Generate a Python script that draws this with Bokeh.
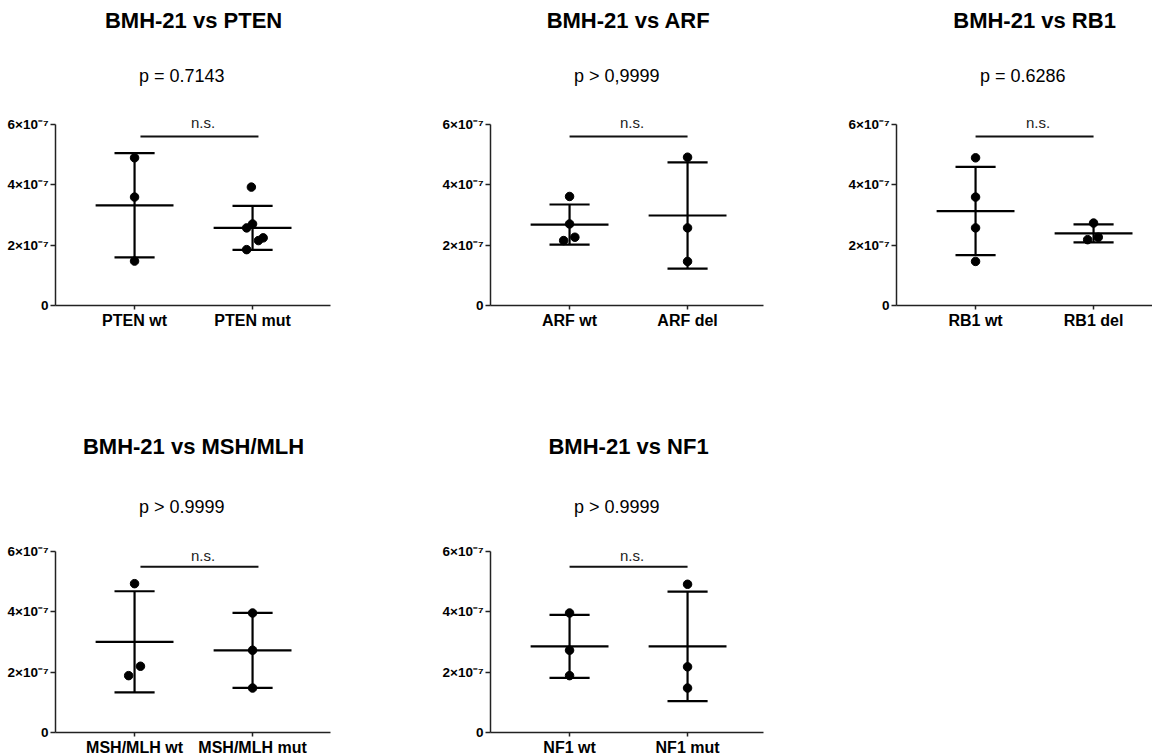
import numpy as np
from bokeh.plotting import figure
from bokeh.models import Range1d, FixedTicker
from bokeh.layouts import column, row
from bokeh.embed import file_html
from bokeh.resources import INLINE
from bokeh.core.properties import value

# ---------------- data (values in units of 1e-7) ----------------
titles = ["BMH-21 vs PTEN", "BMH-21 vs ARF", "BMH-21 vs RB1",
          "BMH-21 vs MSH/MLH", "BMH-21 vs NF1"]
p_texts = ["p = 0.7143", "p > 0,9999", "p = 0.6286", "p > 0.9999", "p > 0.9999"]
sig_texts = ["n.s.", "n.s.", "n.s.", "n.s.", "n.s."]
group_labels = [("PTEN wt", "PTEN mut"), ("ARF wt", "ARF del"), ("RB1 wt", "RB1 del"),
                ("MSH/MLH wt", "MSH/MLH mut"), ("NF1 wt", "NF1 mut")]

pten_wt = [4.89, 3.59, 1.47]
pten_mut = [3.92, 2.70, 2.57, 2.15, 2.24, 1.85]
arf_wt = [3.61, 2.70, 2.15, 2.26]
arf_del = [4.91, 2.57, 1.46]
rb1_wt = [4.89, 3.59, 2.57, 1.46]
rb1_del = [2.73, 2.18, 2.26]
msh_wt = [4.92, 2.19, 1.88]
msh_mut = [3.95, 2.72, 1.47]
nf1_wt = [3.95, 2.72, 1.88]
nf1_mut = [4.90, 2.17, 1.47]

y_tick_values = [0, 2, 4, 6]
y_tick_labels = ["0", "2×10⁻⁷", "4×10⁻⁷", "6×10⁻⁷"]

# horizontal scatter offsets of the dots (category units)
pten_wt_dx = [0, 0, 0]
pten_mut_dx = [-0.01, 0.0, -0.05, 0.05, 0.09, -0.05]
arf_wt_dx = [0, 0, -0.05, 0.045]
arf_del_dx = [0, 0, 0]
rb1_wt_dx = [0, 0, 0, 0]
rb1_del_dx = [0, -0.05, 0.04]
msh_wt_dx = [0, 0.05, -0.05]
msh_mut_dx = [0, 0, 0]
nf1_wt_dx = [0, 0, 0]
nf1_mut_dx = [0, 0, 0]

panels_data = [
    ((pten_wt, pten_wt_dx), (pten_mut, pten_mut_dx)),
    ((arf_wt, arf_wt_dx), (arf_del, arf_del_dx)),
    ((rb1_wt, rb1_wt_dx), (rb1_del, rb1_del_dx)),
    ((msh_wt, msh_wt_dx), (msh_mut, msh_mut_dx)),
    ((nf1_wt, nf1_wt_dx), (nf1_mut, nf1_mut_dx)),
]

# ---------------- layout / style ----------------
FONT = "Liberation Sans"
PX_PER_X = 118.0
X_START = 0.33

# per panel: frame width, left border, right border
frame_w = [275, 273, 264, 275, 273]
left_b = [55, 47, 47, 55, 47]
right_b = [109, 82, 0, 109, 82]
bar_shift = [0.05, 0.0, 0.0, 0.05, 0.0]

# per row: frame height, px per unit, borders, text y (data units)
row_cfg = [
    dict(fh=297, ppu=30.2, bt=8, bb=120, title_y=9.44, p_y=7.60, ns_y=6.05, bar_y=5.60),
    dict(fh=307, ppu=30.25, bt=0, bb=22, title_y=9.46, p_y=7.44, ns_y=5.86, bar_y=5.48),
]


def make_panel(i):
    rc = row_cfg[0] if i < 3 else row_cfg[1]
    fw = frame_w[i]
    p = figure(frame_width=fw, frame_height=rc["fh"],
               min_border_left=left_b[i], min_border_right=right_b[i],
               min_border_top=rc["bt"], min_border_bottom=rc["bb"],
               x_range=Range1d(X_START, X_START + fw / PX_PER_X),
               y_range=Range1d(0, rc["fh"] / rc["ppu"]),
               output_backend="svg", toolbar_location=None, tools="")
    p.outline_line_color = None
    p.xgrid.visible = False
    p.ygrid.visible = False
    p.background_fill_color = "white"
    p.border_fill_color = "white"

    # axes
    ya = p.yaxis[0]
    ya.ticker = FixedTicker(ticks=y_tick_values)
    ya.major_label_overrides = dict(zip(y_tick_values, y_tick_labels))
    ya.bounds = (0, 6)
    ya.minor_tick_line_color = None
    ya.major_tick_out = 5
    ya.major_tick_in = 0
    ya.major_label_standoff = 2
    ya.major_label_text_font = FONT
    ya.major_label_text_font_style = "bold"
    ya.major_label_text_font_size = "13.5px"
    ya.major_label_text_color = "black"
    ya.axis_line_width = 1.5
    ya.axis_line_color = "#222"
    ya.major_tick_line_width = 1.5
    ya.major_tick_line_color = "#222"

    xa = p.xaxis[0]
    xa.ticker = FixedTicker(ticks=[1, 2])
    xa.major_label_overrides = {1: group_labels[i][0], 2: group_labels[i][1]}
    xa.minor_tick_line_color = None
    xa.major_tick_out = 4
    xa.major_tick_in = 0
    xa.major_label_standoff = 2
    xa.major_label_text_font = FONT
    xa.major_label_text_font_style = "bold"
    xa.major_label_text_font_size = "16px"
    xa.major_label_text_color = "black"
    xa.axis_line_width = 1.5
    xa.axis_line_color = "#222"
    xa.major_tick_line_width = 1.5
    xa.major_tick_line_color = "#222"

    # groups: mean ± SD with dots
    for k, (vals, dx) in enumerate(panels_data[i], start=1):
        v = np.array(vals, dtype=float)
        m = v.mean()
        sd = v.std(ddof=1)
        p.segment(x0=[k - 0.33], x1=[k + 0.33], y0=[m], y1=[m],
                  line_color="black", line_width=2.2)
        p.segment(x0=[k], x1=[k], y0=[m - sd], y1=[m + sd],
                  line_color="black", line_width=2.2)
        p.segment(x0=[k - 0.17, k - 0.17], x1=[k + 0.17, k + 0.17],
                  y0=[m - sd, m + sd], y1=[m - sd, m + sd],
                  line_color="black", line_width=2.2)
        xs = [k + d for d in dx]
        p.scatter(x=xs, y=list(v), size=8.5, color="black")

    # significance bar
    b0 = 1 + bar_shift[i]
    b1 = 2 + bar_shift[i]
    p.segment(x0=[b0], x1=[b1], y0=[rc["bar_y"]], y1=[rc["bar_y"]],
              line_color="#111", line_width=2)
    p.text(x=[(b0 + b1) / 2 + 0.03], y=[rc["ns_y"]], text=[sig_texts[i]],
           text_font=value(FONT), text_font_size="15px", text_color="#222",
           text_align="center", text_baseline="alphabetic")
    # p-value
    p.text(x=[1.4], y=[rc["p_y"]], text=[p_texts[i]],
           text_font=value(FONT), text_font_size="18px", text_color="black",
           text_align="center", text_baseline="alphabetic")
    # title
    p.text(x=[1.5], y=[rc["title_y"]], text=[titles[i]],
           text_font=value(FONT), text_font_size="22px", text_font_style="bold",
           text_color="black", text_align="center", text_baseline="alphabetic")
    return p


figs = [make_panel(i) for i in range(5)]
layout = column(row(figs[0], figs[1], figs[2], spacing=0),
                row(figs[3], figs[4], spacing=0), spacing=0)

open("out.html", "w").write(file_html(layout, INLINE))
